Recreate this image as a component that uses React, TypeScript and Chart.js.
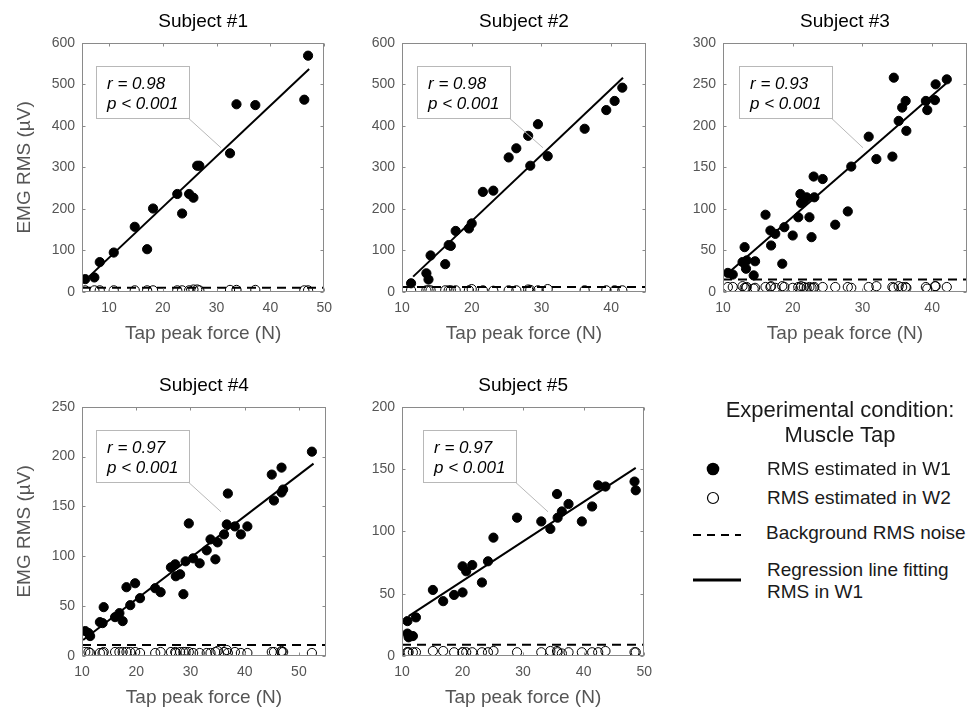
import React, { useEffect, useRef } from "react";
import { Chart, registerables } from "chart.js";
Chart.register(...registerables);

const FONT = "'Liberation Sans', Arial, Helvetica, sans-serif";

// ---------- Subject 1 ----------
const s1Force = [5.6, 7.3, 8.3, 10.9, 14.8, 17.1, 18.2, 22.7, 23.6, 24.9, 25.7, 26.4, 26.8, 32.5, 33.7, 37.2, 46.3, 47.0];
const s1W1 = [31, 35, 72, 95, 157, 103, 201, 236, 189, 236, 227, 304, 304, 334, 452, 450, 463, 569];
const s1W2 = [4, 4, 4, 4, 4, 4, 4, 4, 4, 4, 6, 6, 4, 5, 5, 5, 4, 4];
const s1Noise = 10;
const s1FitX = [6.3, 47.2];
const s1FitY = [37, 537];
const s1XRange = [5, 50];
const s1YRange = [0, 600];
const s1YStep = 100;
const s1Stats = ["r = 0.98", "p < 0.001"];

// ---------- Subject 2 ----------
const s2Force = [11.3, 13.5, 13.8, 14.1, 16.2, 16.7, 17.0, 17.7, 19.6, 20.0, 21.6, 23.1, 25.3, 26.4, 28.1, 28.4, 29.5, 30.9, 36.2, 39.3, 40.5, 41.6];
const s2W1 = [21, 45, 30, 88, 67, 113, 111, 147, 153, 165, 241, 244, 324, 346, 376, 304, 404, 327, 393, 438, 460, 492];
const s2W2 = [4, 4, 4, 4, 4, 4, 4, 4, 4, 7, 4, 3, 4, 4, 6, 5, 4, 7, 4, 4, 4, 4];
const s2Noise = 12;
const s2FitX = [11.6, 41.7];
const s2FitY = [37, 516];
const s2XRange = [10, 45];
const s2YRange = [0, 600];
const s2YStep = 100;
const s2Stats = ["r = 0.98", "p < 0.001"];

// ---------- Subject 3 ----------
const s3Force = [10.7, 11.4, 12.8, 13.1, 13.4, 13.3, 14.4, 14.6, 16.1, 16.8, 16.9, 17.5, 18.5, 18.8, 20.0, 20.8, 21.1, 21.2, 21.6, 22.0, 22.4, 22.7, 23.1, 23.0, 24.3, 26.1, 27.9, 28.4, 30.9, 32.0, 34.3, 34.5, 35.2, 35.7, 36.2, 36.3, 39.1, 39.3, 40.4, 40.5, 42.1];
const s3W1 = [23, 21, 36, 54, 38, 28, 20, 37, 93, 74, 56, 70, 34, 78, 68, 90, 118, 107, 111, 114, 90, 66, 114, 139, 136, 81, 97, 151, 187, 160, 163, 258, 206, 222, 230, 194, 230, 219, 231, 250, 256];
const s3W2 = [6, 6, 7, 5, 6, 5, 4, 5, 6, 6, 7, 5, 7, 6, 5, 6, 5, 7, 6, 5, 6, 5, 6, 5, 6, 6, 6, 5, 6, 7, 6, 5, 7, 6, 6, 5, 6, 4, 7, 7, 6];
const s3Noise = 15;
const s3FitX = [10.5, 42.0];
const s3FitY = [21, 251];
const s3XRange = [10, 45];
const s3YRange = [0, 300];
const s3YStep = 50;
const s3Stats = ["r = 0.93", "p < 0.001"];

// ---------- Subject 4 ----------
const s4Force = [10.6, 11.2, 11.5, 13.3, 13.8, 14.0, 16.1, 16.9, 17.5, 18.2, 18.9, 19.8, 20.7, 23.5, 24.5, 26.4, 27.2, 27.3, 28.1, 28.7, 29.1, 29.7, 30.5, 31.7, 33.0, 33.7, 34.6, 35.0, 36.2, 36.7, 36.9, 38.2, 39.3, 40.5, 45.0, 45.4, 46.8, 46.8, 47.1, 52.4];
const s4W1 = [25, 23, 20, 34, 33, 49, 39, 43, 35, 69, 51, 73, 58, 68, 64, 89, 92, 80, 82, 62, 95, 133, 98, 93, 106, 117, 97, 114, 122, 132, 163, 130, 122, 130, 182, 156, 189, 164, 167, 205];
const s4W2 = [4, 4, 3, 3, 3, 4, 4, 4, 4, 4, 4, 4, 3, 3, 4, 4, 4, 3, 4, 4, 4, 4, 3, 3, 3, 3, 4, 5, 4, 6, 3, 4, 3, 3, 4, 4, 4, 5, 4, 3];
const s4Noise = 11;
const s4FitX = [10.2, 52.7];
const s4FitY = [16, 193];
const s4XRange = [10, 55];
const s4YRange = [0, 250];
const s4YStep = 50;
const s4Stats = ["r = 0.97", "p < 0.001"];

// ---------- Subject 5 ----------
const s5Force = [10.9, 10.9, 11.1, 11.8, 12.3, 15.1, 16.8, 18.6, 20.0, 20.0, 20.6, 21.6, 23.2, 24.2, 25.1, 29.0, 33.0, 34.5, 35.6, 35.7, 36.4, 37.5, 39.7, 41.4, 42.4, 43.6, 48.4, 48.6];
const s5W1 = [28, 18, 15, 16, 31, 53, 44, 49, 51, 72, 68, 73, 59, 76, 95, 111, 108, 102, 130, 111, 116, 122, 108, 120, 137, 136, 140, 133];
const s5W2 = [3, 3, 3, 3, 3, 4, 4, 3, 3, 3, 3, 3, 3, 3, 4, 3, 3, 4, 4, 3, 2, 3, 3, 3, 3, 4, 3, 3];
const s5Noise = 9;
const s5FitX = [11.1, 48.6];
const s5FitY = [32, 151];
const s5XRange = [10, 50];
const s5YRange = [0, 200];
const s5YStep = 50;
const s5Stats = ["r = 0.97", "p < 0.001"];

const subjectTitles = ["Subject #1", "Subject #2", "Subject #3", "Subject #4", "Subject #5"];
const xAxisTitle = "Tap peak force (N)";
const yAxisTitle = "EMG RMS (\u00B5V)";
const legendHeading = ["Experimental condition:", "Muscle Tap"];
const legendLabels = ["RMS estimated in W1", "RMS estimated in W2", "Background RMS noise", "Regression line fitting", "RMS in W1"];

const subjects = [
  { title: subjectTitles[0], force: s1Force, w1: s1W1, w2: s1W2, noise: s1Noise, fitX: s1FitX, fitY: s1FitY, xr: s1XRange, yr: s1YRange, ys: s1YStep, stats: s1Stats },
  { title: subjectTitles[1], force: s2Force, w1: s2W1, w2: s2W2, noise: s2Noise, fitX: s2FitX, fitY: s2FitY, xr: s2XRange, yr: s2YRange, ys: s2YStep, stats: s2Stats },
  { title: subjectTitles[2], force: s3Force, w1: s3W1, w2: s3W2, noise: s3Noise, fitX: s3FitX, fitY: s3FitY, xr: s3XRange, yr: s3YRange, ys: s3YStep, stats: s3Stats },
  { title: subjectTitles[3], force: s4Force, w1: s4W1, w2: s4W2, noise: s4Noise, fitX: s4FitX, fitY: s4FitY, xr: s4XRange, yr: s4YRange, ys: s4YStep, stats: s4Stats },
  { title: subjectTitles[4], force: s5Force, w1: s5W1, w2: s5W2, noise: s5Noise, fitX: s5FitX, fitY: s5FitY, xr: s5XRange, yr: s5YRange, ys: s5YStep, stats: s5Stats },
];

// layout (chart-area top-left corners on the page)
const panelPos = [
  { left: 82, top: 43, yTitle: true, boxDx: 14, leadDx: 139 },
  { left: 402, top: 43, yTitle: false, boxDx: 15, leadDx: 141 },
  { left: 723, top: 43, yTitle: false, boxDx: 16, leadDx: 140 },
  { left: 82, top: 407, yTitle: true, boxDx: 14, leadDx: 139 },
  { left: 402, top: 407, yTitle: false, boxDx: 21, leadDx: 146 },
];
const AREA_W = 244;
const AREA_H = 249;
const Y_AXIS_W = 82;
const TOP_H = 43;
const X_AXIS_H = 55;
const RIGHT_PAD = 14;

const matlabBox = {
  id: "matlabBox",
  afterDatasetsDraw(chart: any, _args: any, opts: any) {
    const { ctx, chartArea: a, scales } = chart;
    ctx.save();
    // annotation leader + box
    if (opts && opts.stats) {
      const bx = a.left + opts.boxDx;
      const by = a.top + 23;
      const bw = 93;
      const bh = 52;
      ctx.strokeStyle = "#b8b8b8";
      ctx.lineWidth = 1;
      ctx.beginPath();
      ctx.moveTo(bx + bw - 1, by + bh);
      ctx.lineTo(a.left + opts.leadDx, a.top + 105);
      ctx.stroke();
      ctx.fillStyle = "#ffffff";
      ctx.fillRect(bx, by, bw, bh);
      ctx.strokeRect(Math.round(bx) + 0.5, Math.round(by) + 0.5, bw, bh);
      ctx.fillStyle = "#000000";
      ctx.font = "italic 17px " + FONT;
      ctx.textBaseline = "middle";
      ctx.textAlign = "left";
      ctx.fillText(opts.stats[0], bx + 11, by + 18);
      ctx.fillText(opts.stats[1], bx + 11, by + 38);
    }
    // axes box
    ctx.strokeStyle = "#8a8a8a";
    ctx.lineWidth = 1;
    const L = Math.round(a.left) + 0.5;
    const R = Math.round(a.right) - 0.5;
    const T = Math.round(a.top) + 0.5;
    const B = Math.round(a.bottom) - 0.5;
    ctx.strokeRect(L, T, R - L, B - T);
    const tl = 3;
    ctx.beginPath();
    scales.x.ticks.forEach((t: any) => {
      const px = Math.round(scales.x.getPixelForValue(t.value)) + 0.5;
      ctx.moveTo(px, B);
      ctx.lineTo(px, B - tl);
      ctx.moveTo(px, T);
      ctx.lineTo(px, T + tl);
    });
    scales.y.ticks.forEach((t: any) => {
      const py = Math.round(scales.y.getPixelForValue(t.value)) + 0.5;
      ctx.moveTo(L, py);
      ctx.lineTo(L + tl, py);
      ctx.moveTo(R, py);
      ctx.lineTo(R - tl, py);
    });
    ctx.stroke();
    ctx.restore();
  },
};

function Panel({ idx }: { idx: number }) {
  const ref = useRef<HTMLCanvasElement | null>(null);
  const s = subjects[idx];
  const p = panelPos[idx];
  const cw = Y_AXIS_W + AREA_W + RIGHT_PAD;
  const chH = TOP_H + AREA_H + X_AXIS_H;
  useEffect(() => {
    if (!ref.current) return;
    const w1 = s.force.map((x, i) => ({ x, y: s.w1[i] }));
    const w2 = s.force.map((x, i) => ({ x, y: s.w2[i] }));
    const fit = s.fitX.map((x, i) => ({ x, y: s.fitY[i] }));
    const noise = s.xr.map((x) => ({ x, y: s.noise }));
    const chart = new Chart(ref.current, {
      type: "scatter",
      data: {
        datasets: [
          { data: fit, showLine: true, borderColor: "#000", borderWidth: 2, pointRadius: 0, fill: false },
          { data: w1, backgroundColor: "#000", borderColor: "#000", borderWidth: 1, pointRadius: 4.6 },
          { data: noise, showLine: true, borderColor: "#000", borderWidth: 2, borderDash: [9, 6], pointRadius: 0, fill: false },
          { data: w2, backgroundColor: "rgba(0,0,0,0)", borderColor: "#000", borderWidth: 1, pointRadius: 4.6 },
        ],
      },
      options: {
        responsive: false,
        animation: false,
        events: [],
        layout: { padding: { left: 0, right: RIGHT_PAD, top: 0, bottom: 0 } },
        plugins: {
          legend: { display: false },
          tooltip: { enabled: false },
          title: {
            display: true,
            text: s.title,
            fullSize: false,
            color: "#000",
            font: { family: FONT, size: 19, weight: "normal" },
            padding: { top: 10, bottom: 10 },
          },
          matlabBox: { stats: s.stats, boxDx: p.boxDx, leadDx: p.leadDx },
        } as any,
        scales: {
          x: {
            type: "linear",
            min: s.xr[0],
            max: s.xr[1],
            grid: { display: false, drawTicks: false },
            border: { display: false },
            ticks: { stepSize: 10, includeBounds: false, color: "#555", font: { family: FONT, size: 14 }, padding: 8, maxRotation: 0 },
            title: { display: true, text: xAxisTitle, color: "#555", font: { family: FONT, size: 19 }, padding: { top: 0, bottom: 2 } },
            afterFit: (sc: any) => {
              sc.height = X_AXIS_H;
            },
          },
          y: {
            type: "linear",
            min: s.yr[0],
            max: s.yr[1],
            grid: { display: false, drawTicks: false },
            border: { display: false },
            ticks: { stepSize: s.ys, color: "#555", font: { family: FONT, size: 14 }, padding: 7 },
            title: { display: p.yTitle, text: yAxisTitle, color: "#555", font: { family: FONT, size: 19 }, padding: { top: 13, bottom: 0 } },
            afterFit: (sc: any) => {
              sc.width = Y_AXIS_W;
            },
          },
        },
      },
      plugins: [matlabBox],
    } as any);
    return () => chart.destroy();
  }, [idx]);
  return (
    <canvas
      ref={ref}
      width={cw}
      height={chH}
      style={{ position: "absolute", left: p.left - Y_AXIS_W, top: p.top - TOP_H, width: cw, height: chH }}
    />
  );
}

const txt: React.CSSProperties = {
  position: "absolute",
  fontFamily: FONT,
  color: "#1a1a1a",
  whiteSpace: "nowrap",
};

function Legend() {
  return (
    <>
      <div style={{ ...txt, left: 640, width: 400, top: 397, fontSize: 22, lineHeight: "26px", textAlign: "center" }}>{legendHeading[0]}</div>
      <div style={{ ...txt, left: 640, width: 400, top: 422, fontSize: 22, lineHeight: "26px", textAlign: "center" }}>{legendHeading[1]}</div>
      <svg style={{ position: "absolute", left: 680, top: 450, overflow: "visible" }} width={80} height={150}>
        <circle cx={33} cy={19} r={6.3} fill="#000" />
        <circle cx={33} cy={48} r={5.5} fill="none" stroke="#000" strokeWidth={1.2} />
        <line x1={13} y1={85} x2={61} y2={85} stroke="#000" strokeWidth={2} strokeDasharray="8,6" />
        <line x1={13} y1={130} x2={61} y2={130} stroke="#000" strokeWidth={3} />
      </svg>
      <div style={{ ...txt, left: 767, top: 458, fontSize: 19, lineHeight: "22px" }}>{legendLabels[0]}</div>
      <div style={{ ...txt, left: 767, top: 487, fontSize: 19, lineHeight: "22px" }}>{legendLabels[1]}</div>
      <div style={{ ...txt, left: 766, top: 522, fontSize: 19, lineHeight: "22px" }}>{legendLabels[2]}</div>
      <div style={{ ...txt, left: 767, top: 559, fontSize: 19, lineHeight: "22px" }}>{legendLabels[3]}</div>
      <div style={{ ...txt, left: 767, top: 581, fontSize: 19, lineHeight: "22px" }}>{legendLabels[4]}</div>
    </>
  );
}

export default function App() {
  return (
    <div style={{ position: "absolute", left: 0, top: 0, width: 980, height: 710, background: "#fff", overflow: "hidden" }}>
      {subjects.map((_, i) => (
        <Panel key={i} idx={i} />
      ))}
      <Legend />
    </div>
  );
}
